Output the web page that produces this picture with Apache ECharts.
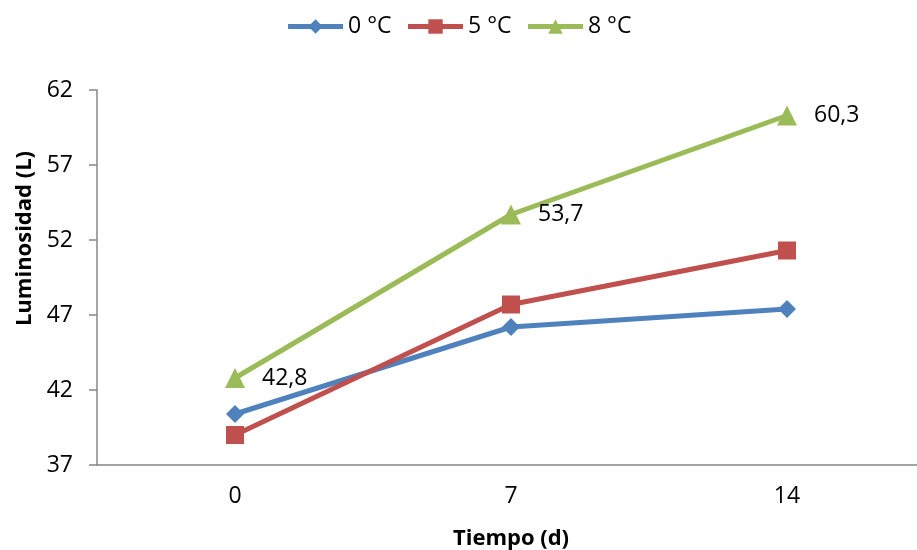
<!DOCTYPE html>
<html>
<head>
<meta charset="utf-8">
<script src="https://cdn.jsdelivr.net/npm/echarts@6/dist/echarts.min.js"></script>
<style>
html,body{margin:0;padding:0;background:#fff;}
#chart{width:917px;height:550px;}
</style>
</head>
<body>
<div id="chart"></div>
<script>
var categories = ['0', '7', '14'];
var seriesNames = ['0 °C', '5 °C', '8 °C'];
var values0 = [40.4, 46.2, 47.4];
var values5 = [39.0, 47.7, 51.3];
var values8 = [42.8, 53.7, 60.3];
var yTicks = [37, 42, 47, 52, 57, 62];

var FONT = '"Open Sans", sans-serif';
var chart = echarts.init(document.getElementById('chart'));
var colors = ['#4F81BD', '#C0504D', '#9BBB59'];

chart.setOption({
  animation: false,
  color: colors,
  textStyle: { fontFamily: FONT },
  legend: {
    top: 10,
    left: 'center',
    itemWidth: 55,
    itemHeight: 18,
    itemGap: 14,
    lineStyle: { width: 5 },
    textStyle: { fontSize: 23, color: '#000', fontFamily: FONT },
    data: seriesNames
  },
  grid: { left: 97, right: -8, top: 90, bottom: 85, outerBoundsMode: 'none', containLabel: false },
  xAxis: {
    type: 'category',
    data: categories,
    boundaryGap: true,
    name: 'Tiempo (d)',
    nameLocation: 'middle',
    nameGap: 63,
    nameTextStyle: { fontSize: 22, fontWeight: 'bold', color: '#000', fontFamily: FONT },
    axisLine: { lineStyle: { color: '#868686', width: 1.5 } },
    axisTick: { show: false },
    axisLabel: { fontSize: 23, color: '#000', margin: 20, fontFamily: FONT },
    splitLine: { show: false }
  },
  yAxis: {
    type: 'value',
    min: yTicks[0],
    max: yTicks[yTicks.length - 1],
    name: 'Luminosidad (L)',
    nameLocation: 'middle',
    nameGap: 60,
    nameTextStyle: { fontSize: 22, fontWeight: 'bold', color: '#000', fontFamily: FONT, padding: [0, 0, 0, 78] },
    axisLine: { show: true, lineStyle: { color: '#868686', width: 1.5 } },
    axisTick: { show: true, inside: false, length: 8, customValues: yTicks, lineStyle: { color: '#868686', width: 1.5 } },
    axisLabel: { fontSize: 23, color: '#000', margin: 24, customValues: yTicks, fontFamily: FONT },
    splitLine: { show: false }
  },
  series: [
    {
      name: seriesNames[0], type: 'line', data: values0,
      symbol: 'diamond', symbolSize: 18,
      lineStyle: { width: 5, color: colors[0] },
      itemStyle: { color: colors[0] }
    },
    {
      name: seriesNames[1], type: 'line', data: values5,
      symbol: 'rect', symbolSize: 18,
      lineStyle: { width: 5, color: colors[1] },
      itemStyle: { color: colors[1] }
    },
    {
      name: seriesNames[2], type: 'line', data: values8,
      symbol: 'triangle', symbolSize: 20,
      lineStyle: { width: 5, color: colors[2] },
      itemStyle: { color: colors[2] },
      label: {
        show: true, position: 'right', distance: 17,
        fontSize: 23, color: '#000', fontFamily: FONT,
        formatter: function (p) { return String(p.value).replace('.', ','); }
      }
    }
  ]
});
</script>
</body>
</html>
